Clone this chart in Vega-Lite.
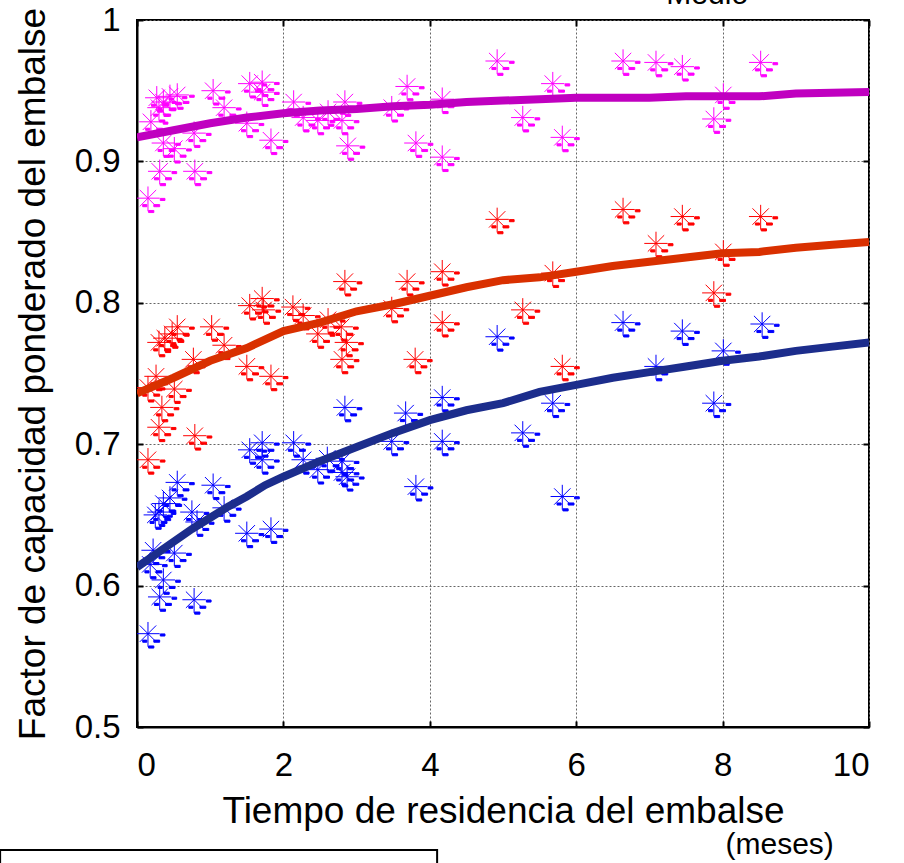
{
  "$schema": "https://vega.github.io/schema/vega-lite/v6.json",
  "width": 732,
  "height": 707,
  "autosize": {"type": "none"},
  "padding": {"left": 137, "top": 20, "right": 35, "bottom": 136},
  "background": "white",
  "config": {
    "font": "Liberation Sans",
    "view": {"stroke": "black", "strokeWidth": 2},
    "axis": {
      "domainColor": "black",
      "domainWidth": 2,
      "tickColor": "black",
      "tickWidth": 2,
      "tickSize": -6,
      "labelColor": "black",
      "labelFontSize": 33,
      "titleColor": "black",
      "titleFontSize": 37,
      "titleFontWeight": "normal",
      "gridColor": "#666666",
      "gridDash": [2, 2],
      "gridWidth": 1
    }
  },
  "datasets": {
    "puntos": [
      {"serie": "Superior", "t": 0.15, "f": 0.874},
      {"serie": "Superior", "t": 0.19, "f": 0.928},
      {"serie": "Superior", "t": 0.27, "f": 0.945},
      {"serie": "Superior", "t": 0.30, "f": 0.938},
      {"serie": "Superior", "t": 0.36, "f": 0.942},
      {"serie": "Superior", "t": 0.45, "f": 0.946},
      {"serie": "Superior", "t": 0.55, "f": 0.947},
      {"serie": "Superior", "t": 0.31, "f": 0.893},
      {"serie": "Superior", "t": 0.36, "f": 0.913},
      {"serie": "Superior", "t": 0.51, "f": 0.909},
      {"serie": "Superior", "t": 0.78, "f": 0.920},
      {"serie": "Superior", "t": 0.79, "f": 0.893},
      {"serie": "Superior", "t": 1.04, "f": 0.950},
      {"serie": "Superior", "t": 1.19, "f": 0.938},
      {"serie": "Superior", "t": 1.50, "f": 0.927},
      {"serie": "Superior", "t": 1.54, "f": 0.955},
      {"serie": "Superior", "t": 1.71, "f": 0.956},
      {"serie": "Superior", "t": 1.71, "f": 0.949},
      {"serie": "Superior", "t": 1.83, "f": 0.915},
      {"serie": "Superior", "t": 2.14, "f": 0.942},
      {"serie": "Superior", "t": 2.27, "f": 0.931},
      {"serie": "Superior", "t": 2.47, "f": 0.929},
      {"serie": "Superior", "t": 2.61, "f": 0.935},
      {"serie": "Superior", "t": 2.80, "f": 0.929},
      {"serie": "Superior", "t": 2.84, "f": 0.942},
      {"serie": "Superior", "t": 2.88, "f": 0.911},
      {"serie": "Superior", "t": 3.48, "f": 0.938},
      {"serie": "Superior", "t": 3.69, "f": 0.953},
      {"serie": "Superior", "t": 3.81, "f": 0.913},
      {"serie": "Superior", "t": 4.17, "f": 0.944},
      {"serie": "Superior", "t": 4.17, "f": 0.903},
      {"serie": "Superior", "t": 4.92, "f": 0.971},
      {"serie": "Superior", "t": 5.27, "f": 0.931},
      {"serie": "Superior", "t": 5.68, "f": 0.955},
      {"serie": "Superior", "t": 5.81, "f": 0.917},
      {"serie": "Superior", "t": 6.64, "f": 0.971},
      {"serie": "Superior", "t": 7.09, "f": 0.970},
      {"serie": "Superior", "t": 7.45, "f": 0.967},
      {"serie": "Superior", "t": 8.01, "f": 0.947},
      {"serie": "Superior", "t": 7.88, "f": 0.930},
      {"serie": "Superior", "t": 8.52, "f": 0.970},

      {"serie": "Medio", "t": 0.15, "f": 0.689},
      {"serie": "Medio", "t": 0.30, "f": 0.712},
      {"serie": "Medio", "t": 0.34, "f": 0.726},
      {"serie": "Medio", "t": 0.79, "f": 0.706},
      {"serie": "Medio", "t": 0.15, "f": 0.740},
      {"serie": "Medio", "t": 0.26, "f": 0.748},
      {"serie": "Medio", "t": 0.51, "f": 0.739},
      {"serie": "Medio", "t": 0.30, "f": 0.772},
      {"serie": "Medio", "t": 0.38, "f": 0.775},
      {"serie": "Medio", "t": 0.48, "f": 0.778},
      {"serie": "Medio", "t": 0.55, "f": 0.783},
      {"serie": "Medio", "t": 0.77, "f": 0.760},
      {"serie": "Medio", "t": 1.02, "f": 0.783},
      {"serie": "Medio", "t": 1.19, "f": 0.770},
      {"serie": "Medio", "t": 1.50, "f": 0.755},
      {"serie": "Medio", "t": 1.83, "f": 0.748},
      {"serie": "Medio", "t": 1.54, "f": 0.798},
      {"serie": "Medio", "t": 1.71, "f": 0.803},
      {"serie": "Medio", "t": 1.73, "f": 0.795},
      {"serie": "Medio", "t": 2.13, "f": 0.797},
      {"serie": "Medio", "t": 2.27, "f": 0.791},
      {"serie": "Medio", "t": 2.47, "f": 0.778},
      {"serie": "Medio", "t": 2.61, "f": 0.788},
      {"serie": "Medio", "t": 2.79, "f": 0.783},
      {"serie": "Medio", "t": 2.86, "f": 0.772},
      {"serie": "Medio", "t": 2.80, "f": 0.760},
      {"serie": "Medio", "t": 2.84, "f": 0.815},
      {"serie": "Medio", "t": 3.48, "f": 0.796},
      {"serie": "Medio", "t": 3.69, "f": 0.815},
      {"serie": "Medio", "t": 3.80, "f": 0.760},
      {"serie": "Medio", "t": 4.17, "f": 0.822},
      {"serie": "Medio", "t": 4.17, "f": 0.786},
      {"serie": "Medio", "t": 4.92, "f": 0.859},
      {"serie": "Medio", "t": 5.27, "f": 0.795},
      {"serie": "Medio", "t": 5.68, "f": 0.821},
      {"serie": "Medio", "t": 5.81, "f": 0.755},
      {"serie": "Medio", "t": 6.64, "f": 0.866},
      {"serie": "Medio", "t": 7.09, "f": 0.842},
      {"serie": "Medio", "t": 7.45, "f": 0.861},
      {"serie": "Medio", "t": 8.01, "f": 0.836},
      {"serie": "Medio", "t": 7.88, "f": 0.807},
      {"serie": "Medio", "t": 8.52, "f": 0.861},

      {"serie": "Inferior", "t": 0.15, "f": 0.566},
      {"serie": "Inferior", "t": 0.31, "f": 0.592},
      {"serie": "Inferior", "t": 0.78, "f": 0.590},
      {"serie": "Inferior", "t": 0.36, "f": 0.604},
      {"serie": "Inferior", "t": 0.18, "f": 0.615},
      {"serie": "Inferior", "t": 0.22, "f": 0.625},
      {"serie": "Inferior", "t": 0.51, "f": 0.623},
      {"serie": "Inferior", "t": 0.25, "f": 0.650},
      {"serie": "Inferior", "t": 0.30, "f": 0.652},
      {"serie": "Inferior", "t": 0.36, "f": 0.658},
      {"serie": "Inferior", "t": 0.45, "f": 0.662},
      {"serie": "Inferior", "t": 0.55, "f": 0.673},
      {"serie": "Inferior", "t": 0.75, "f": 0.652},
      {"serie": "Inferior", "t": 0.82, "f": 0.645},
      {"serie": "Inferior", "t": 1.04, "f": 0.671},
      {"serie": "Inferior", "t": 1.19, "f": 0.655},
      {"serie": "Inferior", "t": 1.50, "f": 0.637},
      {"serie": "Inferior", "t": 1.83, "f": 0.640},
      {"serie": "Inferior", "t": 1.54, "f": 0.696},
      {"serie": "Inferior", "t": 1.71, "f": 0.701},
      {"serie": "Inferior", "t": 1.71, "f": 0.689},
      {"serie": "Inferior", "t": 2.14, "f": 0.701},
      {"serie": "Inferior", "t": 2.27, "f": 0.689},
      {"serie": "Inferior", "t": 2.47, "f": 0.682},
      {"serie": "Inferior", "t": 2.60, "f": 0.690},
      {"serie": "Inferior", "t": 2.80, "f": 0.688},
      {"serie": "Inferior", "t": 2.80, "f": 0.680},
      {"serie": "Inferior", "t": 2.87, "f": 0.677},
      {"serie": "Inferior", "t": 2.84, "f": 0.726},
      {"serie": "Inferior", "t": 3.48, "f": 0.702},
      {"serie": "Inferior", "t": 3.67, "f": 0.722},
      {"serie": "Inferior", "t": 3.81, "f": 0.670},
      {"serie": "Inferior", "t": 4.17, "f": 0.733},
      {"serie": "Inferior", "t": 4.17, "f": 0.702},
      {"serie": "Inferior", "t": 4.92, "f": 0.776},
      {"serie": "Inferior", "t": 5.27, "f": 0.708},
      {"serie": "Inferior", "t": 5.68, "f": 0.729},
      {"serie": "Inferior", "t": 5.81, "f": 0.663},
      {"serie": "Inferior", "t": 6.64, "f": 0.786},
      {"serie": "Inferior", "t": 7.09, "f": 0.755},
      {"serie": "Inferior", "t": 7.45, "f": 0.780},
      {"serie": "Inferior", "t": 8.01, "f": 0.766},
      {"serie": "Inferior", "t": 7.88, "f": 0.729},
      {"serie": "Inferior", "t": 8.54, "f": 0.785}
    ],
    "curvas": [
      {"serie": "Superior", "t": 0, "f": 0.917},
      {"serie": "Superior", "t": 0.5, "f": 0.922},
      {"serie": "Superior", "t": 1.0, "f": 0.927},
      {"serie": "Superior", "t": 1.5, "f": 0.931},
      {"serie": "Superior", "t": 2.0, "f": 0.934},
      {"serie": "Superior", "t": 2.5, "f": 0.936},
      {"serie": "Superior", "t": 3.0, "f": 0.937},
      {"serie": "Superior", "t": 3.5, "f": 0.939},
      {"serie": "Superior", "t": 4.0, "f": 0.940},
      {"serie": "Superior", "t": 4.5, "f": 0.942},
      {"serie": "Superior", "t": 5.0, "f": 0.943},
      {"serie": "Superior", "t": 5.5, "f": 0.944},
      {"serie": "Superior", "t": 6.0, "f": 0.945},
      {"serie": "Superior", "t": 7.0, "f": 0.945},
      {"serie": "Superior", "t": 7.5, "f": 0.946},
      {"serie": "Superior", "t": 8.5, "f": 0.946},
      {"serie": "Superior", "t": 9.0, "f": 0.948},
      {"serie": "Superior", "t": 10.0, "f": 0.949},

      {"serie": "Medio", "t": 0, "f": 0.736},
      {"serie": "Medio", "t": 0.5, "f": 0.747},
      {"serie": "Medio", "t": 1.0, "f": 0.759},
      {"serie": "Medio", "t": 1.5, "f": 0.768},
      {"serie": "Medio", "t": 2.0, "f": 0.780},
      {"serie": "Medio", "t": 2.5, "f": 0.786},
      {"serie": "Medio", "t": 3.0, "f": 0.794},
      {"serie": "Medio", "t": 3.5, "f": 0.799},
      {"serie": "Medio", "t": 4.0, "f": 0.805},
      {"serie": "Medio", "t": 4.5, "f": 0.811},
      {"serie": "Medio", "t": 5.0, "f": 0.816},
      {"serie": "Medio", "t": 5.5, "f": 0.818},
      {"serie": "Medio", "t": 6.0, "f": 0.822},
      {"serie": "Medio", "t": 6.5, "f": 0.826},
      {"serie": "Medio", "t": 7.0, "f": 0.829},
      {"serie": "Medio", "t": 7.5, "f": 0.832},
      {"serie": "Medio", "t": 8.0, "f": 0.835},
      {"serie": "Medio", "t": 8.5, "f": 0.836},
      {"serie": "Medio", "t": 9.0, "f": 0.839},
      {"serie": "Medio", "t": 9.5, "f": 0.841},
      {"serie": "Medio", "t": 10.0, "f": 0.843},

      {"serie": "Inferior", "t": 0, "f": 0.613},
      {"serie": "Inferior", "t": 0.25, "f": 0.622},
      {"serie": "Inferior", "t": 0.5, "f": 0.631},
      {"serie": "Inferior", "t": 0.75, "f": 0.640},
      {"serie": "Inferior", "t": 1.0, "f": 0.648},
      {"serie": "Inferior", "t": 1.25, "f": 0.656},
      {"serie": "Inferior", "t": 1.5, "f": 0.663},
      {"serie": "Inferior", "t": 1.75, "f": 0.671},
      {"serie": "Inferior", "t": 2.0, "f": 0.677},
      {"serie": "Inferior", "t": 2.5, "f": 0.688},
      {"serie": "Inferior", "t": 3.0, "f": 0.698},
      {"serie": "Inferior", "t": 3.5, "f": 0.708},
      {"serie": "Inferior", "t": 4.0, "f": 0.717},
      {"serie": "Inferior", "t": 4.5, "f": 0.724},
      {"serie": "Inferior", "t": 5.0, "f": 0.729},
      {"serie": "Inferior", "t": 5.5, "f": 0.737},
      {"serie": "Inferior", "t": 6.0, "f": 0.742},
      {"serie": "Inferior", "t": 6.5, "f": 0.747},
      {"serie": "Inferior", "t": 7.0, "f": 0.751},
      {"serie": "Inferior", "t": 7.5, "f": 0.755},
      {"serie": "Inferior", "t": 8.0, "f": 0.759},
      {"serie": "Inferior", "t": 8.5, "f": 0.762},
      {"serie": "Inferior", "t": 9.0, "f": 0.766},
      {"serie": "Inferior", "t": 9.5, "f": 0.769},
      {"serie": "Inferior", "t": 10.0, "f": 0.772}
    ],
    "notas": [
      {"texto": "(meses)", "t": 8.78, "f": 0.4165},
      {"texto": "Medio", "t": 7.79, "f": 1.0180}
    ],
    "caja": [
      {"t": -1.87, "t2": 4.10, "f": 0.4130, "f2": 0.38}
    ]
  },
  "layer": [
    {
      "data": {"name": "puntos"},
      "mark": {
        "type": "point",
        "shape": "M-1,0L1,0M0,-1L0,1.12M-0.7,-0.7L0.7,0.7M-0.7,0.7L0.7,-0.7M1.05,0.02L1.45,0.02L1.45,0.2L1.05,0.2ZM-0.45,0.55L-0.1,0.55L-0.1,0.73L-0.45,0.73ZM0.5,0.55L1,0.55L1,0.73L0.5,0.73ZM0.05,1.05L0.5,1.05L0.5,1.23L0.05,1.23Z",
        "size": 548,
        "filled": true,
        "opacity": 1,
        "strokeWidth": 1,
        "clip": true
      },
      "encoding": {
        "x": {
          "field": "t", "type": "quantitative",
          "scale": {"domain": [0, 10], "nice": false, "zero": false},
          "axis": {
            "orient": "bottom",
            "values": [0, 2, 4, 6, 8, 10],
            "grid": true,
            "labelPadding": 28,
            "title": "Tiempo de residencia del embalse",
            "titlePadding": 11
          }
        },
        "y": {
          "field": "f", "type": "quantitative",
          "scale": {"domain": [0.5, 1], "nice": false, "zero": false},
          "axis": {
            "orient": "left",
            "values": [0.5, 0.6, 0.7, 0.8, 0.9, 1.0],
            "grid": true,
            "labelExpr": "datum.value == 1 ? '1' : format(datum.value, '.1f')",
            "labelPadding": 23,
            "title": "Factor de capacidad ponderado del embalse",
            "titlePadding": 22
          }
        },
        "fill": {
          "field": "serie", "type": "nominal",
          "scale": {"domain": ["Superior", "Medio", "Inferior"], "range": ["#ff00ff", "#ff0000", "#0000ff"]},
          "legend": null
        },
        "stroke": {
          "field": "serie", "type": "nominal",
          "scale": {"domain": ["Superior", "Medio", "Inferior"], "range": ["#ff00ff", "#ff0000", "#0000ff"]},
          "legend": null
        }
      }
    },
    {
      "data": {"name": "curvas"},
      "mark": {"type": "line", "strokeWidth": 8, "clip": true},
      "encoding": {
        "x": {
          "field": "t", "type": "quantitative",
          "axis": {"orient": "top", "values": [0, 2, 4, 6, 8, 10], "labels": false, "domain": false, "grid": false, "title": null}
        },
        "y": {
          "field": "f", "type": "quantitative",
          "axis": {"orient": "right", "values": [0.5, 0.6, 0.7, 0.8, 0.9, 1.0], "labels": false, "domain": false, "grid": false, "title": null}
        },
        "color": {
          "field": "serie", "type": "nominal",
          "scale": {"domain": ["Superior", "Medio", "Inferior"], "range": ["#c000c0", "#d93000", "#1c2d8c"]},
          "legend": null
        }
      }
    },
    {
      "data": {"name": "notas"},
      "mark": {"type": "text", "align": "center", "baseline": "middle", "fontSize": 30, "color": "black"},
      "encoding": {
        "x": {"field": "t", "type": "quantitative", "axis": null},
        "y": {"field": "f", "type": "quantitative", "axis": null},
        "text": {"field": "texto"}
      }
    },
    {
      "data": {"name": "caja"},
      "mark": {"type": "rect", "fill": null, "stroke": "black", "strokeWidth": 2},
      "encoding": {
        "x": {"field": "t", "type": "quantitative", "axis": null},
        "x2": {"field": "t2"},
        "y": {"field": "f", "type": "quantitative", "axis": null},
        "y2": {"field": "f2"}
      }
    }
  ],
  "resolve": {
    "scale": {"color": "independent"},
    "axis": {"x": "independent", "y": "independent"}
  }
}
